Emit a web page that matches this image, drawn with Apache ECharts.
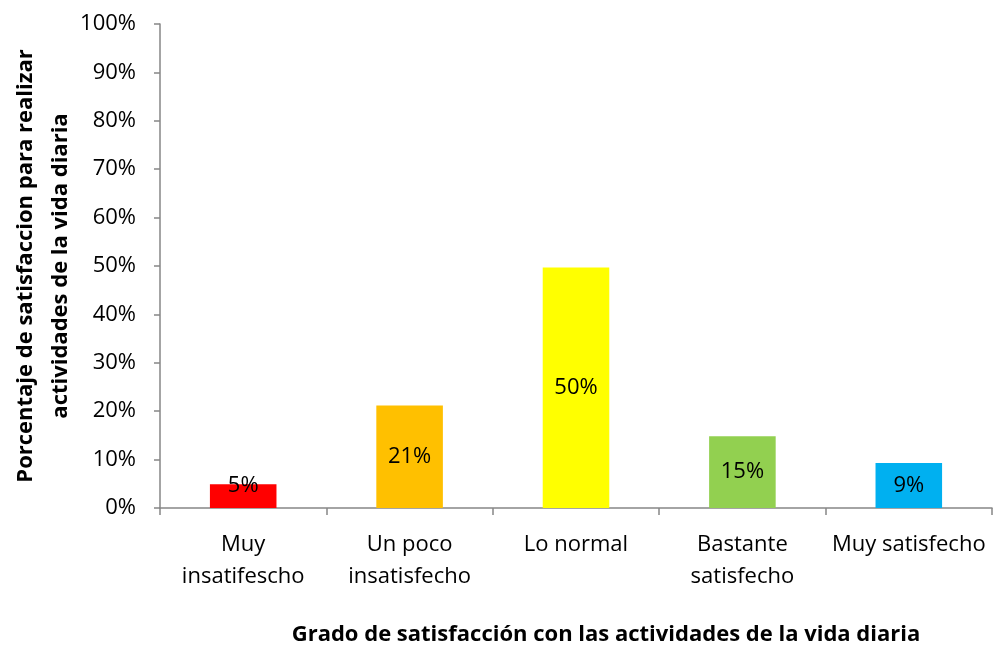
<!DOCTYPE html>
<html lang="es">
<head>
    <meta charset="UTF-8">
    <title>Grado de satisfacción</title>
    <script src="https://cdn.jsdelivr.net/npm/echarts@6/dist/echarts.min.js"></script>
    <style>
        html, body { margin: 0; padding: 0; background: #fff; }
        #chart { width: 994px; height: 648px; }
    </style>
</head>
<body>
    <div id="chart"></div>
    <script>
        // datos
        var categorias = ['Muy\ninsatifescho', 'Un poco\ninsatisfecho', 'Lo normal', 'Bastante\nsatisfecho', 'Muy satisfecho'];
        var valores = [4.9, 21.2, 49.7, 14.8, 9.3];
        var etiquetas = ['5%', '21%', '50%', '15%', '9%'];
        var colores = ['#FF0000', '#FFC000', '#FFFF00', '#92D050', '#00B0F0'];

        var fuente = '"Open Sans", "Noto Sans", sans-serif';

        var datos = valores.map(function (v, i) {
            var item = { value: v, itemStyle: { color: colores[i] }, etiqueta: etiquetas[i] };
            // la barra pequeña: etiqueta sobre el borde superior
            if (v < 8) {
                item.label = { position: 'top', distance: -12 };
            }
            return item;
        });

        var myChart = echarts.init(document.getElementById('chart'));
        myChart.setOption({
            backgroundColor: '#fff',
            animation: false,
            grid: { left: 160, right: 2, top: 24, bottom: 140, outerBoundsMode: 'none', containLabel: false },
            xAxis: {
                type: 'category',
                data: categorias,
                name: 'Grado de satisfacción con las actividades de la vida diaria',
                nameLocation: 'middle',
                nameGap: 116,
                nameMoveOverlap: false,
                nameTextStyle: {
                    fontFamily: fuente, fontWeight: 'bold', fontSize: 22, color: '#000',
                    padding: [0, 0, 0, 60]
                },
                axisLine: { lineStyle: { color: '#868686', width: 1.5 } },
                axisTick: { show: true, length: 7, lineStyle: { color: '#868686', width: 1.5 } },
                axisLabel: { fontFamily: fuente, fontSize: 22, color: '#000', margin: 21, lineHeight: 32, interval: 0 }
            },
            yAxis: {
                type: 'value',
                min: 0,
                max: 100,
                interval: 10,
                name: 'Porcentaje de satisfaccion para realizar\nactividades de la vida diaria',
                nameLocation: 'middle',
                nameGap: 82,
                nameRotate: 90,
                nameMoveOverlap: false,
                nameTextStyle: { fontFamily: fuente, fontWeight: 'bold', fontSize: 22, color: '#000', lineHeight: 35 },
                axisLine: { show: true, lineStyle: { color: '#868686', width: 1.5 } },
                axisTick: { show: true, length: 6, lineStyle: { color: '#868686', width: 1.5 } },
                splitLine: { show: false },
                axisLabel: {
                    fontFamily: fuente, fontSize: 22, color: '#000', margin: 24,
                    formatter: function (v) { return v + '%'; }
                }
            },
            series: [{
                type: 'bar',
                data: datos,
                barWidth: '40%',
                label: {
                    show: true,
                    position: 'inside',
                    fontFamily: fuente,
                    fontSize: 22,
                    color: '#000',
                    formatter: function (p) { return p.data.etiqueta; }
                }
            }]
        });
    </script>
</body>
</html>
